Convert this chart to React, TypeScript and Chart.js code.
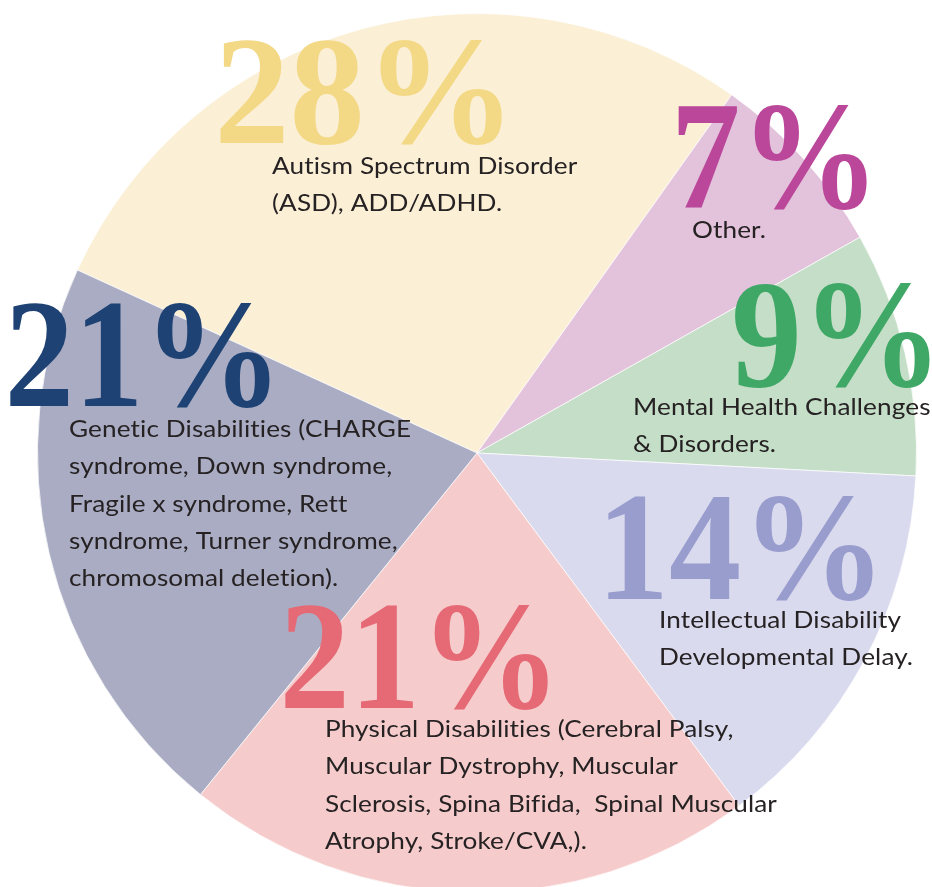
import React, { useEffect, useRef } from "react";
import { Chart, registerables } from "chart.js";

Chart.register(...registerables);

// ---- data ----
const categories = [
  "Autism Spectrum Disorder (ASD), ADD/ADHD.",
  "Other.",
  "Mental Health Challenges & Disorders.",
  "Intellectual Disability Developmental Delay.",
  "Physical Disabilities",
  "Genetic Disabilities",
];
const shares = [28, 7, 9, 14, 21, 21];
const percentLabels = ["28%", "7%", "9%", "14%", "21%", "21%"];
const descriptionLines = [
  ["Autism Spectrum Disorder", "(ASD), ADD/ADHD."],
  ["Other."],
  ["Mental Health Challenges", "& Disorders."],
  ["Intellectual Disability", "Developmental Delay."],
  [
    "Physical Disabilities (Cerebral Palsy,",
    "Muscular Dystrophy, Muscular",
    "Sclerosis, Spina Bifida,  Spinal Muscular",
    "Atrophy, Stroke/CVA,).",
  ],
  [
    "Genetic Disabilities (CHARGE",
    "syndrome, Down syndrome,",
    "Fragile x syndrome, Rett",
    "syndrome, Turner syndrome,",
    "chromosomal deletion).",
  ],
];

// ---- styles ----
const sliceColors = ["#FBF0D6", "#E3C2DB", "#C4DEC7", "#DADAEE", "#F5CCCB", "#A9ACC3"];
const numberColors = ["#F3D886", "#BB479B", "#3FA866", "#999DCE", "#E66A76", "#1E4273"];

// ---- annotation layout (page px) ----
const numberLeft = [220, 678, 735, 608, 285, 10];
const numberBottom = [143, 208, 386, 599, 708, 406];
const numberWidth = [282, 189, 195, 265, 263, 260];
const numberHeight = 105;
const textLeft = [272, 692, 633, 659, 325, 69];
const textBaseline = [174, 238, 415, 628, 737, 437];
const textLineHeight = 37.3;
const textFont = "24px Lato";
const textStretch = 1.09;
const textColor = "#262223";

const CANVAS_W = 954;
const CANVAS_H = 906;
const PAD = 13;

const labelsPlugin = {
  id: "sliceLabels",
  afterDraw(chart: any) {
    const ctx = chart.ctx as CanvasRenderingContext2D;
    ctx.save();
    // big percentage numbers
    const baseSize = 155;
    ctx.font = `bold ${baseSize}px "Liberation Serif"`;
    const probe = ctx.measureText("8");
    const size = (baseSize * numberHeight) / (probe.actualBoundingBoxAscent + probe.actualBoundingBoxDescent);
    ctx.font = `bold ${size}px "Liberation Serif"`;
    ctx.textBaseline = "alphabetic";
    ctx.textAlign = "left";
    percentLabels.forEach((txt, i) => {
      const m = ctx.measureText(txt);
      const inkW = m.actualBoundingBoxLeft + m.actualBoundingBoxRight;
      const sx = numberWidth[i] / inkW;
      ctx.save();
      ctx.translate(numberLeft[i] + m.actualBoundingBoxLeft * sx, numberBottom[i]);
      ctx.scale(sx, 1);
      ctx.fillStyle = numberColors[i];
      ctx.fillText(txt, 0, 0);
      ctx.restore();
    });
    // descriptions
    ctx.font = textFont;
    (ctx as any).letterSpacing = "0.1px";
    ctx.fillStyle = textColor;
    descriptionLines.forEach((lines, i) => {
      lines.forEach((line, j) => {
        ctx.save();
        ctx.translate(textLeft[i], textBaseline[i] + j * textLineHeight);
        ctx.scale(textStretch, 1);
        ctx.fillText(line, 0, 0);
        ctx.restore();
      });
    });
    ctx.restore();
  },
};

export default function App() {
  const ref = useRef<HTMLCanvasElement | null>(null);
  useEffect(() => {
    if (!ref.current) return;
    const chart = new Chart(ref.current, {
      type: "pie",
      data: {
        labels: categories,
        datasets: [
          {
            data: shares,
            backgroundColor: sliceColors,
            borderColor: "rgba(255,255,255,0.7)",
            borderWidth: 1,
            hoverOffset: 0,
            hoverBorderWidth: 1,
          },
        ],
      },
      options: {
        responsive: false,
        animation: false,
        events: [],
        rotation: -65.4,
        layout: { padding: PAD },
        plugins: {
          legend: { display: false },
          tooltip: { enabled: false },
          title: { display: false },
        },
      },
      plugins: [labelsPlugin],
    });
    return () => chart.destroy();
  }, []);
  return (
    <div
      style={{
        position: "absolute",
        left: 0,
        top: 0,
        width: 932,
        height: 887,
        overflow: "hidden",
        background: "#ffffff",
      }}
    >
      <canvas ref={ref} width={CANVAS_W} height={CANVAS_H} style={{ display: "block" }} />
    </div>
  );
}
